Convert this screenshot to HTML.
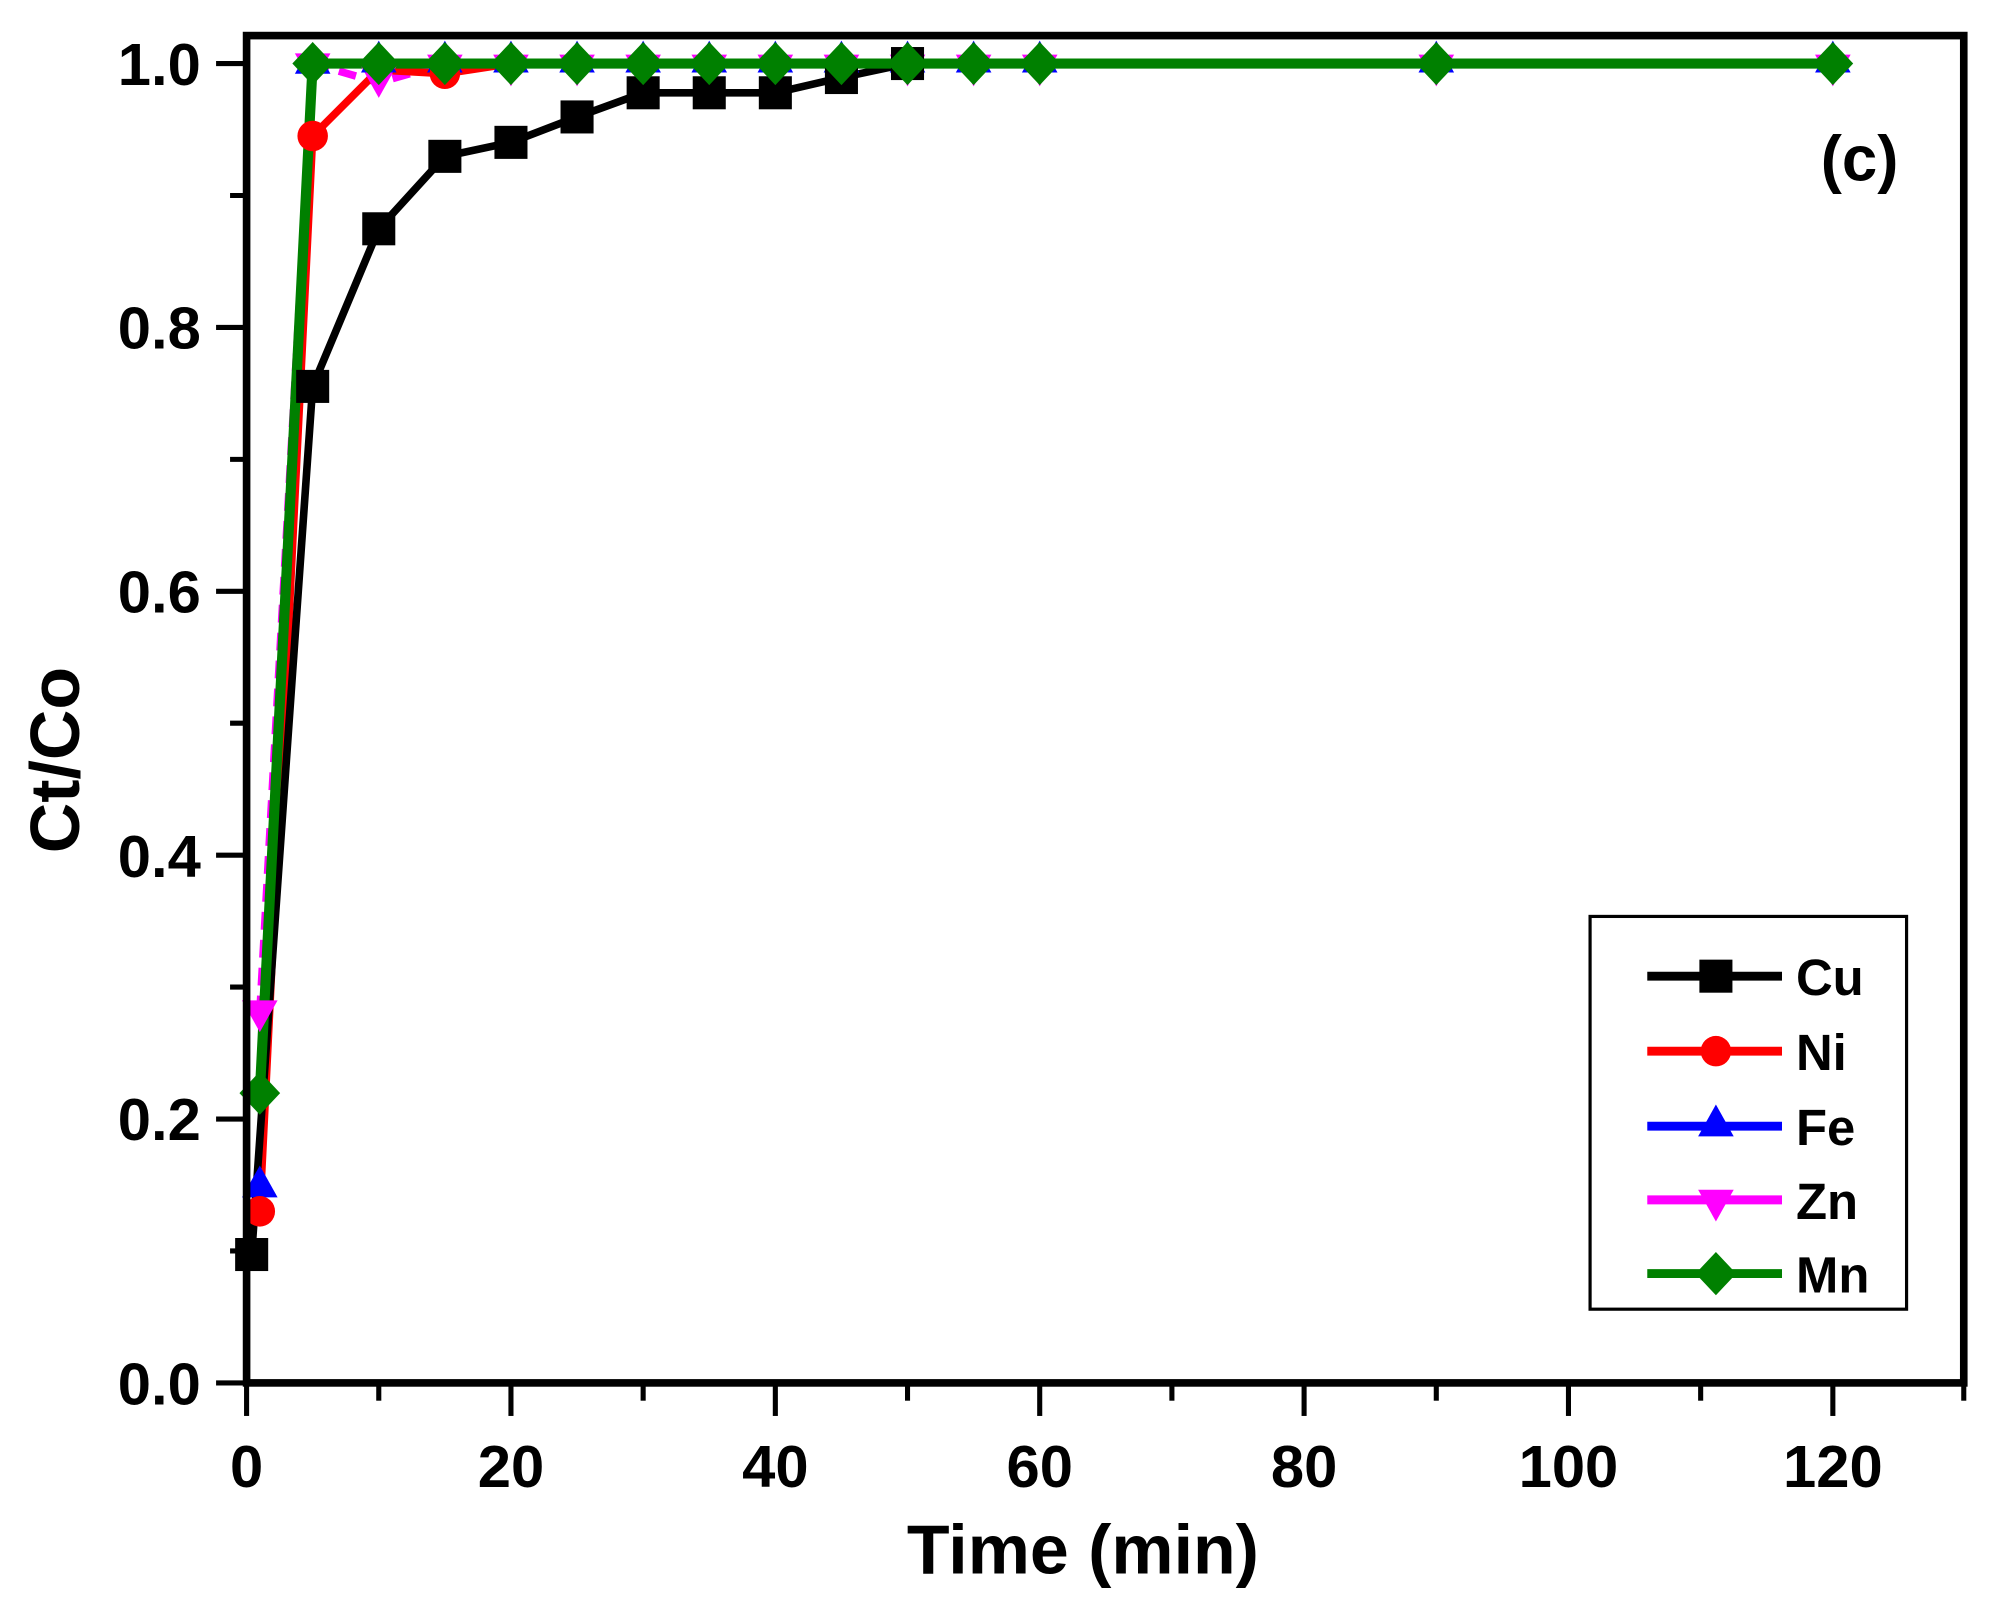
<!DOCTYPE html>
<html><head><meta charset="utf-8"><style>
html,body{margin:0;padding:0;background:#fff;}
svg{display:block;}
text{font-family:"Liberation Sans",Arial,sans-serif;font-weight:bold;}
</style></head><body>
<svg width="1993" height="1615" viewBox="0 0 1568 1270.6" preserveAspectRatio="none" xmlns="http://www.w3.org/2000/svg">
<rect width="1568" height="1271" fill="#fff"/>
<defs>
<g id="sq"><rect x="-13" y="-13" width="26" height="26" fill="#000"/></g>
<g id="ci"><circle r="12" fill="#f00"/></g>
<g id="tu"><polygon points="0,-15 14,10 -14,10" fill="#00f"/></g>
<g id="td"><polygon points="0,15 14,-10 -14,-10" fill="#f0f"/></g>
<g id="di"><polygon points="0,-17 16,0 0,17 -16,0" fill="#008000"/></g>
</defs>
<g stroke="#000" stroke-width="4">
<line x1="170" y1="1088" x2="194" y2="1088"/>
<line x1="170" y1="880.4" x2="194" y2="880.4"/>
<line x1="170" y1="672.8" x2="194" y2="672.8"/>
<line x1="170" y1="465.2" x2="194" y2="465.2"/>
<line x1="170" y1="257.6" x2="194" y2="257.6"/>
<line x1="170" y1="50" x2="194" y2="50"/>
<line x1="181" y1="984.2" x2="194" y2="984.2"/>
<line x1="181" y1="776.6" x2="194" y2="776.6"/>
<line x1="181" y1="569" x2="194" y2="569"/>
<line x1="181" y1="361.4" x2="194" y2="361.4"/>
<line x1="181" y1="153.8" x2="194" y2="153.8"/>
<line x1="194" y1="1088" x2="194" y2="1114"/>
<line x1="402" y1="1088" x2="402" y2="1114"/>
<line x1="610" y1="1088" x2="610" y2="1114"/>
<line x1="818" y1="1088" x2="818" y2="1114"/>
<line x1="1026" y1="1088" x2="1026" y2="1114"/>
<line x1="1234" y1="1088" x2="1234" y2="1114"/>
<line x1="1442" y1="1088" x2="1442" y2="1114"/>
<line x1="298" y1="1088" x2="298" y2="1102"/>
<line x1="506" y1="1088" x2="506" y2="1102"/>
<line x1="714" y1="1088" x2="714" y2="1102"/>
<line x1="922" y1="1088" x2="922" y2="1102"/>
<line x1="1130" y1="1088" x2="1130" y2="1102"/>
<line x1="1338" y1="1088" x2="1338" y2="1102"/>
<line x1="1545" y1="1088" x2="1545" y2="1102"/>
</g>
<polyline fill="none" stroke="#f0f" stroke-width="6" stroke-dasharray="14,8" points="204.4,797.4 246,50 298,65 350,50 402,50 454,50 506,50 558,50 610,50 662,50 714,50 766,50 818,50 1130,50 1442,50"/>
<polyline fill="none" stroke="#00f" stroke-width="6" points="204.4,932.3 246,50 298,50 350,50 402,50 454,50 506,50 558,50 610,50 662,50 714,50 766,50 818,50 1130,50 1442,50"/>
<polyline fill="none" stroke="#f00" stroke-width="6" points="204.4,953 246,107 298,55 350,58 402,50 454,50 506,50 558,50 610,50 662,50 714,50 766,50 818,50 1130,50 1442,50"/>
<polyline fill="none" stroke="#000" stroke-width="6" points="198,987 246,304 298,180 350,123 402,112 454,92 506,73 558,73 610,73 662,61 714,50 766,50 818,50 1130,50 1442,50"/>
<polyline fill="none" stroke="#008000" stroke-width="8" points="204.4,860 246,50 298,50 350,50 402,50 454,50 506,50 558,50 610,50 662,50 714,50 766,50 818,50 1130,50 1442,50"/>
<g>
<use href="#td" x="204.4" y="797"/><use href="#td" x="246" y="52"/><use href="#td" x="298" y="62"/><use href="#td" x="350" y="53"/><use href="#td" x="1442" y="53"/><use href="#td" x="1130" y="53"/><use href="#td" x="818" y="53"/><use href="#td" x="766" y="53"/><use href="#td" x="714" y="53"/><use href="#td" x="402" y="53"/><use href="#td" x="454" y="53"/><use href="#td" x="506" y="53"/><use href="#td" x="558" y="53"/><use href="#td" x="610" y="53"/><use href="#td" x="662" y="53"/>
<use href="#tu" x="204.4" y="932"/><use href="#tu" x="246" y="48"/><use href="#tu" x="1442" y="47"/><use href="#tu" x="1130" y="47"/><use href="#tu" x="818" y="47"/><use href="#tu" x="298" y="47"/><use href="#tu" x="350" y="47"/><use href="#tu" x="402" y="47"/><use href="#tu" x="454" y="47"/><use href="#tu" x="506" y="47"/><use href="#tu" x="558" y="47"/><use href="#tu" x="610" y="47"/><use href="#tu" x="662" y="47"/><use href="#tu" x="714" y="47"/><use href="#tu" x="766" y="47"/>
<use href="#ci" x="204.4" y="953"/><use href="#ci" x="246" y="107"/><use href="#ci" x="350" y="58"/>
<use href="#sq" x="198" y="987"/><use href="#sq" x="246" y="304"/><use href="#sq" x="298" y="180"/><use href="#sq" x="350" y="123"/><use href="#sq" x="402" y="112"/><use href="#sq" x="454" y="92"/><use href="#sq" x="506" y="73"/><use href="#sq" x="558" y="73"/><use href="#sq" x="610" y="73"/><use href="#sq" x="662" y="61"/><use href="#sq" x="714" y="50"/>
<use href="#di" x="204.4" y="860"/><use href="#di" x="246" y="50"/><use href="#di" x="298" y="50"/><use href="#di" x="350" y="50"/><use href="#di" x="402" y="50"/><use href="#di" x="454" y="50"/><use href="#di" x="506" y="50"/><use href="#di" x="558" y="50"/><use href="#di" x="610" y="50"/><use href="#di" x="662" y="50"/><use href="#di" x="714" y="50"/><use href="#di" x="766" y="50"/><use href="#di" x="818" y="50"/><use href="#di" x="1130" y="50"/><use href="#di" x="1442" y="50"/>
</g>
<rect x="194" y="28" width="1351" height="1060" fill="none" stroke="#000" stroke-width="6"/>
<g font-size="47" text-anchor="end">
<text x="158" y="1105">0.0</text>
<text x="158" y="897">0.2</text>
<text x="158" y="690">0.4</text>
<text x="158" y="482">0.6</text>
<text x="158" y="274">0.8</text>
<text x="158" y="67">1.0</text>
</g>
<g font-size="47" text-anchor="middle">
<text x="194" y="1170">0</text>
<text x="402" y="1170">20</text>
<text x="610" y="1170">40</text>
<text x="818" y="1170">60</text>
<text x="1026" y="1170">80</text>
<text x="1234" y="1170">100</text>
<text x="1442" y="1170">120</text>
</g>
<text x="852" y="1238" font-size="55" text-anchor="middle">Time (min)</text>
<text transform="translate(62,598) rotate(-90)" font-size="55" text-anchor="middle">Ct/Co</text>
<text x="1463" y="142" font-size="50" text-anchor="middle">(c)</text>
<rect x="1251" y="721" width="249" height="309" fill="#fff" stroke="#000" stroke-width="2.5"/>
<g stroke-width="7">
<line x1="1296" y1="768" x2="1402" y2="768" stroke="#000"/>
<line x1="1296" y1="827" x2="1402" y2="827" stroke="#f00"/>
<line x1="1296" y1="886" x2="1402" y2="886" stroke="#00f"/>
<line x1="1296" y1="944" x2="1402" y2="944" stroke="#f0f"/>
<line x1="1296" y1="1002" x2="1402" y2="1002" stroke="#008000"/>
</g>
<use href="#sq" x="1350" y="768"/>
<use href="#ci" x="1350" y="827"/>
<use href="#tu" x="1350" y="884"/>
<use href="#td" x="1350" y="946"/>
<use href="#di" x="1350" y="1002"/>
<g font-size="40">
<text x="1413" y="783">Cu</text>
<text x="1413" y="842">Ni</text>
<text x="1413" y="901">Fe</text>
<text x="1413" y="959">Zn</text>
<text x="1413" y="1017">Mn</text>
</g>
</svg>
</body></html>
